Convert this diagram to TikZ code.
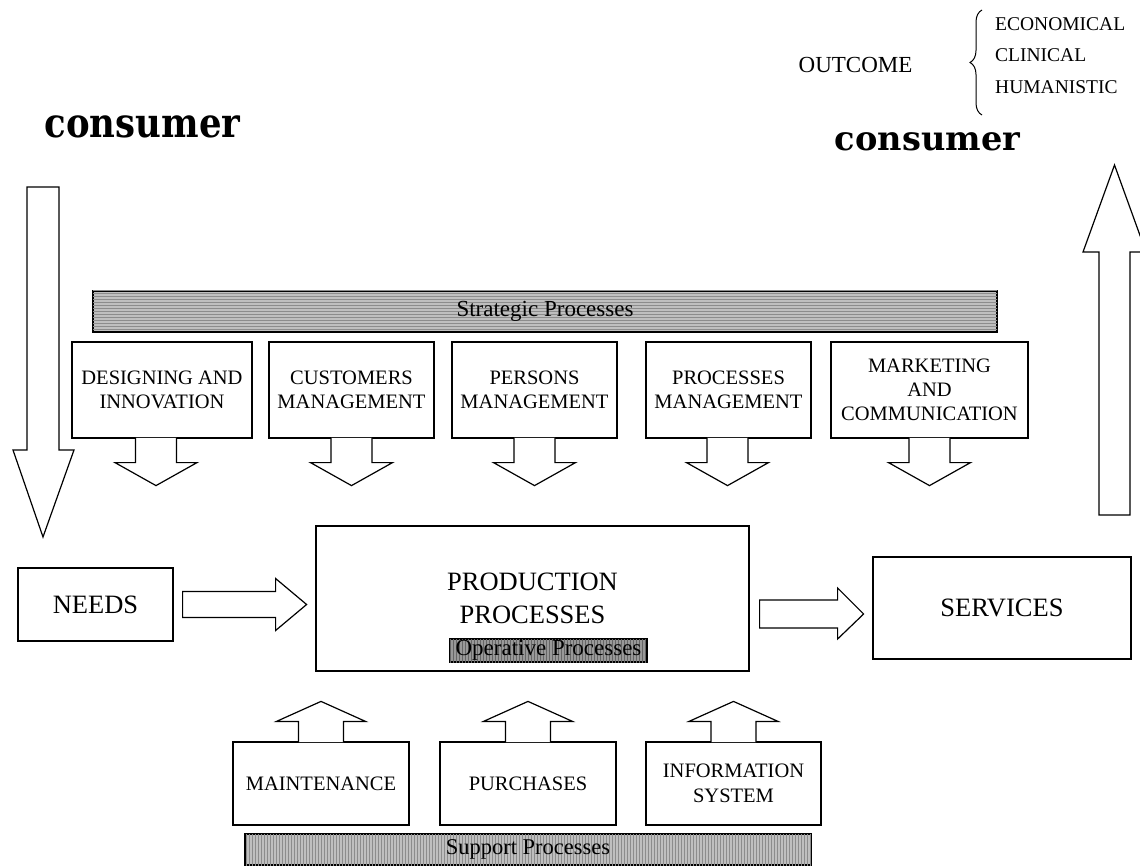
\documentclass[tikz,border=0pt]{standalone}
\usepackage{fontspec}
\usepackage{graphicx}
\setmainfont{Liberation Serif}
\newfontfamily\consfont{DejaVu Serif}
\usetikzlibrary{calc,patterns,decorations.pathreplacing}
\newcommand\fsz[2]{\fontsize{#1}{#2}\selectfont}
\begin{document}
\begin{tikzpicture}[x=1pt,y=-1pt,
  stratbox/.style={draw, line width=1.2pt, minimum height=96pt, inner sep=0pt, align=center, font=\fsz{20.5}{24}},
  suppbox/.style={draw, line width=1.2pt, minimum height=83pt, inner sep=0pt, align=center, font=\fsz{20.5}{25}},
  bigbox/.style={draw, line width=1.2pt, inner sep=0pt, align=center, font=\fsz{26.5}{33}},
  blk/.style={draw, fill=white, line width=1.2pt, line join=miter},
  stratbar/.style={draw, line width=2pt, inner sep=0pt, font=\fsz{23}{26}, fill=black!25,
     postaction={pattern=horizontal lines, pattern color=black!45}},
  suppbar/.style={draw, line width=1.6pt, inner sep=0pt, font=\fsz{22.5}{26}, fill=black!25,
     postaction={pattern=vertical lines, pattern color=black!45}},
  operbar/.style={draw, line width=1.2pt, inner sep=0pt, font=\fsz{23}{26}, fill=black!40,
     postaction={pattern=vertical lines, pattern color=black!60}},
  plain/.style={inner sep=0pt}
]
\useasboundingbox (0,0) rectangle (1140,867);

% ---- top texts
\node[plain, anchor=base, font=\fsz{35.5}{40}\consfont\bfseries] (consL) at (142.5,137) {\scalebox{1}[1.15]{consumer}};
\node[plain, anchor=base, font=\fsz{33.6}{38}\consfont\bfseries] (consR) at (927.5,150) {consumer};
\node[plain, anchor=base, font=\fsz{23}{26}] (outcome) at (855.5,73) {OUTCOME};
\node[plain, anchor=base west, font=\fsz{19.5}{22}] (eco) at (995,31) {ECONOMICAL};
\node[plain, anchor=base west, font=\fsz{19.5}{22}] (cli) at (995,62) {CLINICAL};
\node[plain, anchor=base west, font=\fsz{19.5}{22}] (hum) at (995,93) {HUMANISTIC};
\coordinate (brB) at (982,115);
\coordinate (brT) at (982,10);
\draw[line width=1pt, decorate, decoration={brace, amplitude=12pt}] (brB) -- (brT);

% ---- big consumer arrows
\coordinate (inTop) at (43,187);
\coordinate (outTip) at (1114.5,165);
\draw[blk] ($(inTop)+(-16,0)$) -- ($(inTop)+(16,0)$) -- ++(0,263) -- ++(15,0) -- ($(inTop)+(0,350)$)
   -- ($(inTop)+(-30,263)$) -- ++(14,0) -- cycle;
\draw[blk] ($(outTip)+(-15.5,350)$) -- ++(0,-263) -- ++(-16,0) -- (outTip) -- ++(31.5,87) -- ++(-16,0) -- ++(0,263) -- cycle;

% ---- strategic processes
\node[stratbar, minimum width=904pt, minimum height=41pt] (strat) at (545,311) {Strategic Processes};
\node[stratbox, minimum width=180pt] (b1) at (162,390) {DESIGNING AND\\INNOVATION};
\node[stratbox, minimum width=165pt] (b2) at (351.5,390) {CUSTOMERS\\MANAGEMENT};
\node[stratbox, minimum width=165pt] (b3) at (534.5,390) {PERSONS\\MANAGEMENT};
\node[stratbox, minimum width=165pt] (b4) at (728.5,390) {PROCESSES\\MANAGEMENT};
\node[stratbox, minimum width=197pt] (b5) at (929.5,390) {MARKETING\\AND\\COMMUNICATION};

\newcommand\dnblock[2]{\draw[blk] ($(#1.south)+(#2-20.5,-0.8)$) -- ++(0,24.8) -- ++(-20.5,0) -- ++(41,23) -- ++(41,-23) -- ++(-20.5,0) -- ++(0,-24.8);}
\dnblock{b1}{-6}
\dnblock{b2}{0}
\dnblock{b3}{0}
\dnblock{b4}{-1}
\dnblock{b5}{0}

% ---- middle row
\node[bigbox, minimum width=155pt, minimum height=73pt] (needs) at (95.5,604.5) {NEEDS};
\node[bigbox, minimum width=433pt, minimum height=145pt] (prod) at (532.5,598.5) {PRODUCTION\\PROCESSES};
\node[bigbox, minimum width=258pt, minimum height=102pt] (serv) at (1002,608) {SERVICES};
\node[operbar, minimum width=197pt, minimum height=23pt] (oper) at (548.5,650.5) {Operative Processes};

\draw[blk] ($(needs.east)+(9,-13)$) -- ++(93,0) -- ++(0,-13) -- ($(needs.east)+(133,0)$)
   -- ($(needs.east)+(102,26)$) -- ++(0,-13) -- ($(needs.east)+(9,13)$) -- cycle;
\draw[blk] ($(prod.east)+(10,1.5)$) -- ++(78,0) -- ++(0,-12) -- ($(prod.east)+(114,15.5)$)
   -- ($(prod.east)+(88,40.5)$) -- ++(0,-11) -- ($(prod.east)+(10,29.5)$) -- cycle;

% ---- support processes
\node[suppbox, minimum width=176pt] (maint) at (321,783.5) {MAINTENANCE};
\node[suppbox, minimum width=176pt] (purch) at (528,783.5) {PURCHASES};
\node[suppbox, minimum width=175pt] (info) at (733.5,783.5) {INFORMATION\\SYSTEM};
\node[suppbar, minimum width=566pt, minimum height=31pt] (supp) at (528,849.5) {Support Processes};

\newcommand\upblock[1]{\draw[blk] ($(#1.north)+(-22.5,0.8)$) -- ++(0,-20.8) -- ++(-22,0) -- ++(44.5,-20) -- ++(44.5,20) -- ++(-22,0) -- ++(0,20.8);}
\upblock{maint}
\upblock{purch}
\upblock{info}
\end{tikzpicture}
\end{document}
